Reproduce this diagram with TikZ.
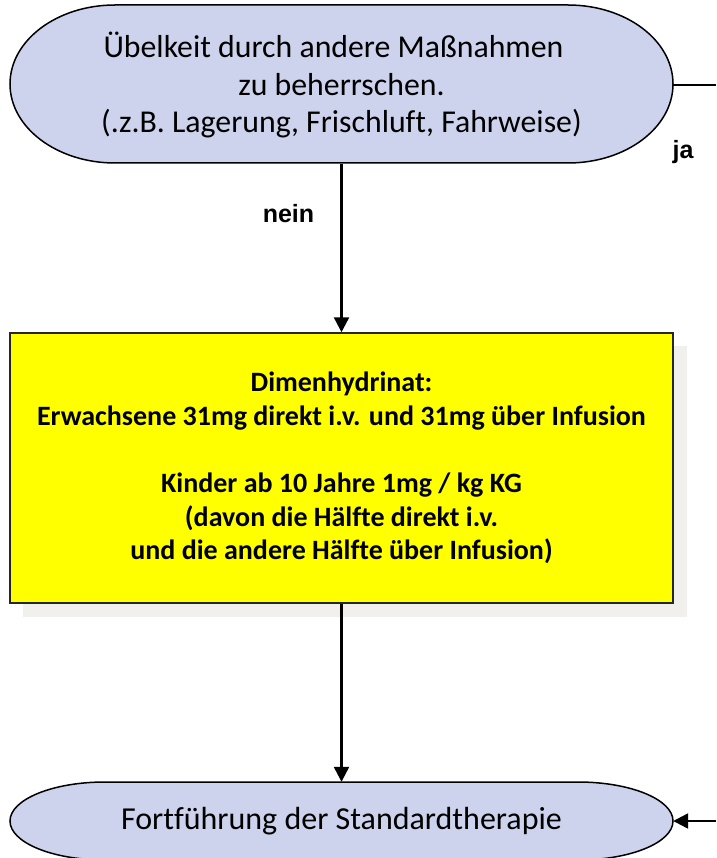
\documentclass[tikz,border=0pt]{standalone}
\usepackage{fontspec}
\setmainfont{Carlito}[Ligatures=NoCommon]
\newfontfamily\labelfont{Liberation Sans}
\usetikzlibrary{arrows.meta}
\definecolor{termfill}{RGB}{205,211,236}
\definecolor{boxyellow}{RGB}{255,255,0}
\definecolor{shadowgray}{RGB}{241,240,236}

\begin{document}
\begin{tikzpicture}[x=1pt,y=1pt,
  flow/.style={line width=2.4pt, -{Triangle[length=15pt,width=15pt]}},
  plainline/.style={line width=2.4pt},
  term/.style={draw=black, line width=1.5pt, fill=termfill},
  textbox/.style={inner sep=0pt, align=center, minimum width=663pt},
  answer/.style={font=\labelfont\bfseries\fontsize{25}{29}\selectfont, inner sep=0pt, anchor=base}
]
\useasboundingbox (0,0) rectangle (716,-858);

% decision: other measures
\filldraw[term] (115,-5) -- (568,-5)
  arc[start angle=90, end angle=-90, x radius=105, y radius=79] -- (115,-163)
  arc[start angle=270, end angle=90, x radius=105, y radius=79] -- cycle;
\node[textbox, minimum height=158pt, font=\fontsize{31.8}{37.5}\selectfont] (check) at (341.5,-85)
  {Übelkeit durch andere Maßnahmen\hspace*{16pt}\\zu beherrschen.\\(.z.B. Lagerung, Frischluft, Fahrweise)};

% dosage box with shadow
\fill[shadowgray] (23,-346) rectangle (687,-617);
\node[textbox, minimum height=270pt, draw=black!85, line width=1.5pt, fill=boxyellow,
  font=\bfseries\fontsize{28}{33.6}\selectfont] (dose) at (341.5,-468)
  {Dimenhydrinat:\\Erwachsene 31mg direkt i.v. und 31mg über Infusion\\[33.6pt]
   Kinder ab 10 Jahre 1mg / kg KG\\(davon die Hälfte direkt i.v.\\und die andere Hälfte über Infusion)};

% end: continue standard therapy
\filldraw[term] (105,-782) -- (578,-782)
  arc[start angle=90, end angle=-90, x radius=95, y radius=39] -- (105,-860)
  arc[start angle=270, end angle=90, x radius=95, y radius=39] -- cycle;
\node[textbox, minimum height=78pt, font=\fontsize{32}{38}\selectfont] (resume) at (341.5,-821)
  {Fortführung der Standardtherapie};

% connectors
\coordinate (jaend) at (716,-85);
\coordinate (backin) at (716,-821);
\draw[flow] (check.south) -- (dose.north);
\draw[flow] (dose.south) -- (resume.north);
\draw[plainline] (check.east) -- (jaend);
\draw[flow] (backin) -- (resume.east);

% branch labels
\node[answer] (nein) at (288.5,-223) {nein};
\node[answer] (ja) at (683,-159) {ja};
\end{tikzpicture}
\end{document}
